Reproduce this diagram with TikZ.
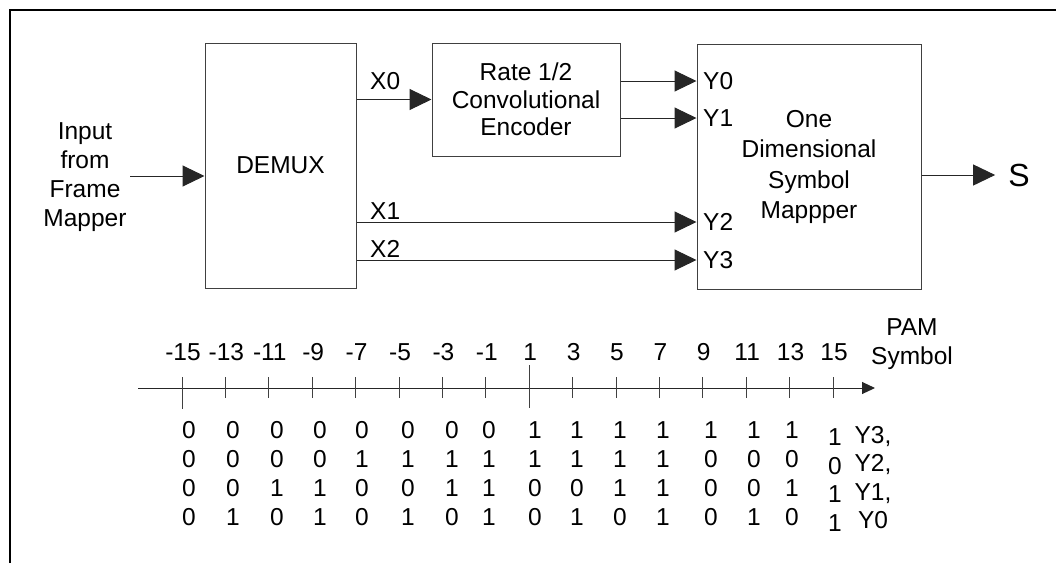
\documentclass[tikz,border=0pt]{standalone}
\usepackage{fontspec}
\setmainfont{Liberation Sans}
\usetikzlibrary{arrows.meta}

\begin{document}
\begin{tikzpicture}[x=1pt,y=-1pt,font=\fontsize{24.5}{29}\selectfont,
  blk/.style={draw=black!75,line width=1pt,align=center,inner sep=0pt},
  txt/.style={inner sep=0pt,align=center},
  tick/.style={draw=black!75,line width=1pt}]
\def\pfeil#1#2{\draw[black!85,line width=1pt,-{Triangle[length=22pt,width=21pt]}] (#1) -- (#2);}
\useasboundingbox (0,0) rectangle (1056,563);
\draw[line width=2pt] (10,563) -- (10,10) -- (1056,10);

\node[blk,minimum width=151pt,minimum height=245pt] at (280.5,165.5) (demux) {DEMUX};
\node[blk,minimum width=188pt,minimum height=113pt,font=\fontsize{24.5}{27.5}\selectfont] at (526,99.5) (rate) {Rate 1/2\\Convolutional\\Encoder};
\node[blk,minimum width=224pt,minimum height=245pt,font=\fontsize{24.5}{30.5}\selectfont] at (809,167) (mapper) {One\\Dimensional\\Symbol\\Mappper};

\node[txt] at (85,177.5) (input) {Input\\from\\Frame\\Mapper};
\node[txt,font=\fontsize{32}{36}\selectfont] at (1019,175) (s) {S};

\node[txt,anchor=west] at (370,81) (x0) {X0};
\node[txt,anchor=west] at (370,211) (x1) {X1};
\node[txt,anchor=west] at (370,249) (x2) {X2};
\node[txt,anchor=west] at (703,81) (y0) {Y0};
\node[txt,anchor=west] at (703,118) (y1) {Y1};
\node[txt,anchor=west] at (703,222) (y2) {Y2};
\node[txt,anchor=west] at (703,260) (y3) {Y3};
\coordinate (inA) at (130,176);

\pfeil{inA}{inA -| demux.west}
\pfeil{demux.east |- rate.west}{rate.west}
\pfeil{rate.east |- y0}{mapper.west |- y0}
\pfeil{rate.east |- y1}{mapper.west |- y1}
\pfeil{demux.east |- y2}{mapper.west |- y2}
\pfeil{demux.east |- y3}{mapper.west |- y3}
\pfeil{mapper.east |- s}{[xshift=-13pt]s.west}

\coordinate (ax0) at (138,388);
\coordinate (ax1) at (875,388);
\draw[black!85,line width=1pt,-{Triangle[length=13pt,width=12pt]}] (ax0) -- (ax1);
\foreach \i in {0,...,15}{
  \pgfmathtruncatemacro\v{2*\i-15}
  \draw[tick] (182+43.4*\i,377) -- (182+43.4*\i,398);
  \node[txt] at (183+43.4*\i,352) (pam\i) {\v};
}
\draw[tick] (182,377) -- (182,409);
\draw[tick] (529.2,365) -- (529.2,408);
\node[txt] at (912,344.5) (pamlbl) {PAM\\Symbol};

\foreach \x/\ya/\yb/\yc/\yd [count=\n] in {189/0/0/0/0,233/0/0/0/1,277/0/0/1/0,320/0/0/1/1,
    362/0/1/0/0,408/0/1/0/1,452/0/1/1/0,489/0/1/1/1,535/1/1/0/0,577/1/1/0/1,
    620/1/1/1/0,663/1/1/1/1,711/1/0/0/0,754/1/0/0/1,792/1/0/1/0}
  \node[txt] at (\x,473.5) (bit\n) {\ya\\\yb\\\yc\\\yd};
\node[txt,font=\fontsize{24.5}{28.7}\selectfont] at (835,480) (bitF) {1\\0\\1\\1};
\node[txt,font=\fontsize{24.5}{28.3}\selectfont] at (873,477.5) (ylbl) {Y3,\\Y2,\\Y1,\\Y0};
\end{tikzpicture}
\end{document}
